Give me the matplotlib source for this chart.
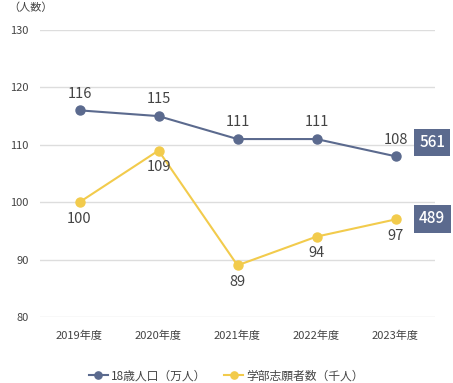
import matplotlib.pyplot as plt

plt.rcParams['font.family'] = ['Noto Sans CJK JP', 'DejaVu Sans']

years = ["2019年度", "2020年度", "2021年度", "2022年度", "2023年度"]
pop18 = [116, 115, 111, 111, 108]
applicants = [100, 109, 89, 94, 97]
latest_pop = "561"
latest_app = "489"

blue = "#5b6a8e"
yellow = "#f2cb4c"
grey = "#444444"

fig = plt.figure(figsize=(4.53, 3.83), dpi=100)
ax = fig.add_axes([40 / 453, 1 - 317 / 383, 395 / 453, 287 / 383])

x = range(len(years))
ax.plot(x, pop18, color=blue, lw=1.5, marker="o", ms=6.5, label="18歳人口（万人）", zorder=3)
ax.plot(x, applicants, color=yellow, lw=1.5, marker="o", ms=6.5, label="学部志願者数（千人）", zorder=3)

for i, v in enumerate(pop18):
    ax.annotate(str(v), (i, v), xytext=(0, 7), textcoords="offset points",
                ha="center", va="bottom", fontsize=10.5, color=grey)
for i, v in enumerate(applicants):
    ax.annotate(str(v), (i, v), xytext=(0, -7), textcoords="offset points",
                ha="center", va="top", fontsize=10.5, color=grey)

# latest totals in boxes at right
box = dict(boxstyle="square,pad=0.35", fc=blue, ec="none")
ax.annotate(latest_pop, (4, pop18[-1]), xytext=(17, 10), textcoords="offset points",
            ha="left", va="center", fontsize=11, color="white", fontweight="medium",
            bbox=box, annotation_clip=False)
ax.annotate(latest_app, (4, applicants[-1]), xytext=(17, 0.5), textcoords="offset points",
            ha="left", va="center", fontsize=11, color="white", fontweight="medium",
            bbox=box, annotation_clip=False)

ax.set_xlim(-0.5, 4.5)
ax.set_ylim(80, 130)
ax.set_yticks([80, 90, 100, 110, 120, 130])
ax.set_xticks(list(x))
ax.set_xticklabels(years)
ax.grid(axis="y", color="#dddddd", lw=1)
ax.set_axisbelow(True)
for s in ax.spines.values():
    s.set_visible(False)
ax.tick_params(length=0, labelsize=8, colors=grey)
ax.tick_params(axis="x", pad=10)
ax.tick_params(axis="y", pad=8)

fig.text(8 / 453, 1 - 8 / 383, "（人数）", fontsize=8, color=grey, va="center", ha="left")

fig.legend(loc="center", bbox_to_anchor=(0.5, 1 - 376 / 383), ncol=2, frameon=False,
           fontsize=8.5, labelcolor=grey, handlelength=1.6, handletextpad=0.3,
           columnspacing=1.5, markerscale=0.8)

fig.savefig("out.png", dpi=100)
